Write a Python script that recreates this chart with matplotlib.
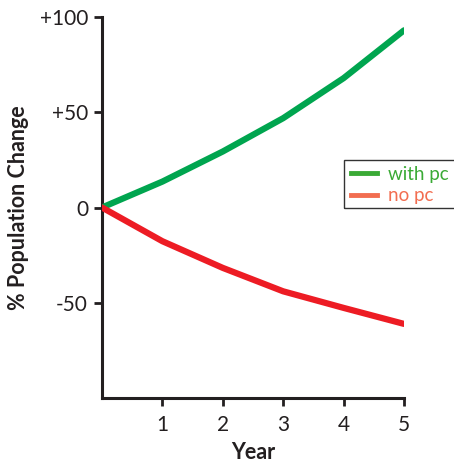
import matplotlib
matplotlib.use("Agg")
import matplotlib.pyplot as plt
from matplotlib.patches import Rectangle

years = [0, 1, 2, 3, 4, 5]
with_pc = [0, 13.6, 29.4, 46.9, 67.9, 93.0]
no_pc = [0, -17.7, -31.7, -44.0, -52.7, -61.1]
xticks = [1, 2, 3, 4, 5]
yticks = [100, 50, 0, -50]
ytick_labels = ["+100", "+50", "0", "-50"]

plt.rcParams['font.family'] = ['Lato', 'DejaVu Sans']

fig = plt.figure(figsize=(4.54, 4.62), dpi=100)
ax = fig.add_axes([102/454, 64/462, 302/454, 381/462])

ax.plot(years, with_pc, color='#00a54f', lw=4.5, solid_capstyle='round', zorder=3)
ax.plot(years, no_pc, color='#ed1c24', lw=4.5, solid_capstyle='round', zorder=3)

ax.set_xlim(0, 5)
ax.set_ylim(-100, 100)
ax.set_xticks(xticks)
ax.set_yticks(yticks)
ax.set_yticklabels(ytick_labels)

for s in ['top', 'right']:
    ax.spines[s].set_visible(False)
for s in ['left', 'bottom']:
    ax.spines[s].set_linewidth(2.2)
    ax.spines[s].set_color('#231f20')
ax.tick_params(axis='both', direction='out', length=6, width=2, color='#231f20',
               labelsize=15, labelcolor='#231f20', pad=4)
ax.tick_params(axis='x', pad=6)

ax.set_xlabel('Year', fontsize=15.5, fontweight='bold', color='#231f20', labelpad=5)
ax.set_ylabel('% Population Change', fontsize=15.5, fontweight='bold', color='#231f20', labelpad=8)

h1, = ax.plot([], [], color='#3aaa35', lw=3.5)
h2, = ax.plot([], [], color='#f26d50', lw=3.5)
leg = fig.legend([h1, h2], ['with pc', 'no pc'], loc='upper left',
                 bbox_to_anchor=(346/454, 1 - 161/462), frameon=False,
                 fontsize=13.5, handlelength=1.4, handletextpad=0.6, borderpad=0.25,
                 labelspacing=0.25, borderaxespad=0)
texts = leg.get_texts()
texts[0].set_color('#3aaa35')
texts[1].set_color('#f26d50')

# legend frame, running past the right edge as in the reference
fig.patches.append(Rectangle((344/454, 1 - 208/462), 0.3, 48/462,
                             transform=fig.transFigure, fill=False,
                             edgecolor='#333333', linewidth=1.0))

fig.savefig('out.png', dpi=100)
